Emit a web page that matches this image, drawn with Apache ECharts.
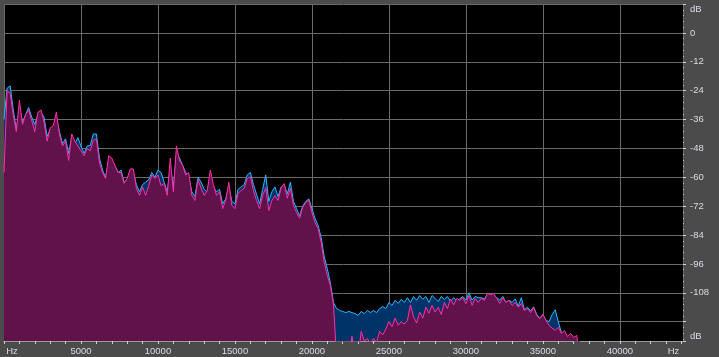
<!DOCTYPE html>
<html><head><meta charset="utf-8">
<script src="https://cdn.jsdelivr.net/npm/echarts@6/dist/echarts.min.js"></script>
<style>html,body{margin:0;padding:0;background:#4b4b4b;}#c{width:719px;height:357px;}</style>
</head><body><div id="c"></div>
<script>
// FFT bin width (Hz)
const binHz = 200;
// Channel 1 (pink) magnitude in dB per bin
const pinkDb = [
-58,-24,-25,-34,-41,-28,-38,-34,-32,-36.5,
-41,-33,-32,-37,-45,-39.5,-38.5,-33,-42,-47,
-45,-53,-42,-45,-47,-49,-51,-48,-49,-44.7,
-44,-54,-58,-60.5,-51,-52,-55,-58,-58,-62.5,
-60.5,-56.5,-56.5,-64.6,-67.5,-64,-67.5,-63.5,-59,-60.5,
-59,-63.5,-62.5,-67.5,-52,-66,-47,-53,-55,-59,
-58,-67.5,-69.6,-61,-64.5,-67.5,-65.5,-57,-63,-67.5,
-66,-73,-69.6,-62,-71.7,-73,-66.7,-65.5,-64.6,-60.5,
-59.7,-65.5,-69.6,-73,-67.6,-64.3,-73.8,-69.6,-67.6,-69.6,
-64.3,-62.6,-68.7,-64.6,-71.7,-74.6,-77,-72.5,-70.5,-69.6,
-74.6,-78.8,-81.3,-87,-95.4,-100.8,-105,-113,-135,-135,
-135,-135,-135,-126,-135,-135,-124,-128,-127,-129,
-127,-128.5,-124,-125.5,-123,-120,-122,-118.5,-121.5,-120,
-121,-119.5,-113,-118,-120.5,-116,-118.5,-114,-116.5,-113.2,
-116,-114,-117,-112,-114.5,-110.5,-113,-110.3,-111.1,-110,
-112.5,-109.1,-113.2,-110.3,-112,-110.3,-111.1,-108.2,-108.7,-108.2,
-110.3,-112.4,-110,-112,-111.1,-113.2,-112,-114,-112.4,-115.3,
-114.5,-116.2,-114,-117.4,-118.7,-117,-119.4,-121.5,-122.7,-123.6,
-122.3,-124.8,-123.6,-126.1,-124.8,-126.5,-125.7,-135
];
// Channel 2 (blue) magnitude in dB per bin
const blueDb = [
-36,-23,-22,-32,-40,-31,-37,-34,-31,-35,
-38,-34,-33,-35,-43,-40,-39,-35,-41,-46,
-44,-50,-43,-46,-43.5,-47,-50,-47,-46.8,-42,
-42,-52,-57,-60,-53,-55,-55,-58,-57,-62,
-61,-57,-58,-63,-66,-63,-62,-61,-58,-60,
-57,-58,-62,-66,-56,-64,-50,-52,-55,-58,
-60,-66,-68,-60,-62,-65,-66,-60,-64,-66,
-65,-71,-69,-64,-70,-71,-65,-64,-63,-59,
-58,-63,-67,-71,-65,-59,-70,-66,-64,-68,
-64,-63,-67,-62,-70,-73,-76,-72,-70,-69,
-73,-77,-80,-85,-93,-98,-104,-112,-114.5,-115.3,
-115.7,-116.2,-115.7,-116.2,-116.6,-117.4,-115.7,-116.6,-115.3,-116.2,
-115.3,-116.2,-114.5,-113.7,-114.5,-112,-113.2,-111.1,-112.4,-110.7,
-112,-110,-112,-109.5,-111.1,-109.1,-110.7,-109.5,-112,-109.1,
-110.3,-111.6,-109.5,-110.7,-109.5,-111.6,-110,-111.1,-110.5,-109.5,
-111,-108,-111,-109.5,-110,-110,-110.5,-108.5,-108.5,-109,
-110,-111,-109.5,-112,-111,-112,-110.5,-113.5,-110,-115,
-114,-115.5,-113.8,-117,-118.5,-117,-119.4,-120,-117,-115,
-120,-124.5,-125,-126.5,-126,-128,-135,-135
];
// Axis tick labels
const freqLabels = [0,5000,10000,15000,20000,25000,30000,35000,40000,44100];
const dbLabels = [0,-12,-24,-36,-48,-60,-72,-84,-96,-108];
const dbGrid = [12,0,-12,-24,-36,-48,-60,-72,-84,-96,-108,-120,-128];
const dbUnitLabels = [9.9,-126];
const freqMax = 44100, dbMax = 12, dbMin = -128;

const freqTicks = [];
for (let f = 0; f <= 44000; f += 1000) freqTicks.push(f);
const dbMinor = [];
for (let k = 0; k <= 58; k++) dbMinor.push(+(dbMax - k*2.4).toFixed(2));

const toPairs = arr => arr.map((v,i) => [i*binHz, v]);

const lab = {color:'#d9dde6', fontFamily:'Liberation Sans, Arial, sans-serif', fontSize:9.5};
const chart = echarts.init(document.getElementById('c'), null, {renderer:'canvas'});
chart.setOption({
  animation:false,
  backgroundColor:'#4b4b4b',
  grid:{left:4, right:36, top:4, bottom:16, show:true, backgroundColor:'#000', borderWidth:0, outerBoundsMode:'none'},
  xAxis:[{
    type:'value', min:0, max:freqMax, interval:5000, position:'bottom',
    axisLine:{show:true, onZero:false, lineStyle:{color:'#9a9a9a', width:1}},
    axisTick:{show:false},
    splitLine:{show:true, lineStyle:{color:'#6a6a6a', width:1}},
    axisLabel:Object.assign({}, lab, {
      customValues:freqLabels, margin:5,
      formatter:v => v===0 ? '{l|Hz}' : (v===freqMax ? '{r|Hz}' : String(v)),
      rich:{l:Object.assign({}, lab, {padding:[0,0,0,16]}), r:Object.assign({}, lab, {padding:[0,19,0,0]})}
    })
  },{
    type:'value', min:0, max:freqMax, position:'bottom',
    axisLine:{show:false, onZero:false}, splitLine:{show:false}, axisLabel:{show:false},
    axisTick:{show:true, customValues:freqTicks, length:3, lineStyle:{color:'#d0d0d0'}}
  }],
  yAxis:[{
    type:'value', min:dbMin, max:dbMax, position:'right',
    axisLine:{show:false, onZero:false},
    axisTick:{show:true, customValues:dbGrid, length:3, lineStyle:{color:'#d0d0d0'}},
    splitLine:{show:true, lineStyle:{color:'#6a6a6a', width:1}},
    axisLabel:Object.assign({}, lab, {customValues:dbLabels, margin:7, align:'left'})
  },{
    type:'value', min:dbMin, max:dbMax, position:'right',
    axisLine:{show:false, onZero:false}, splitLine:{show:false},
    axisTick:{show:true, customValues:dbMinor, length:1, lineStyle:{color:'#c8c8c8'}},
    axisLabel:Object.assign({}, lab, {customValues:dbUnitLabels, margin:7, align:'left', formatter:()=> 'dB'})
  }],
  series:[{
    name:'R', type:'line', xAxisIndex:0, yAxisIndex:0, data:toPairs(blueDb),
    symbol:'none', sampling:null, clip:true, z:2,
    lineStyle:{color:'#2eb6ff', width:1},
    areaStyle:{color:'#003469', opacity:1, origin:'start'}
  },{
    name:'L', type:'line', xAxisIndex:0, yAxisIndex:0, data:toPairs(pinkDb),
    symbol:'none', sampling:null, clip:true, z:3,
    lineStyle:{color:'#ff2fa6', width:1},
    areaStyle:{color:'#62124b', opacity:1, origin:'start'}
  }]
});
</script></body></html>
